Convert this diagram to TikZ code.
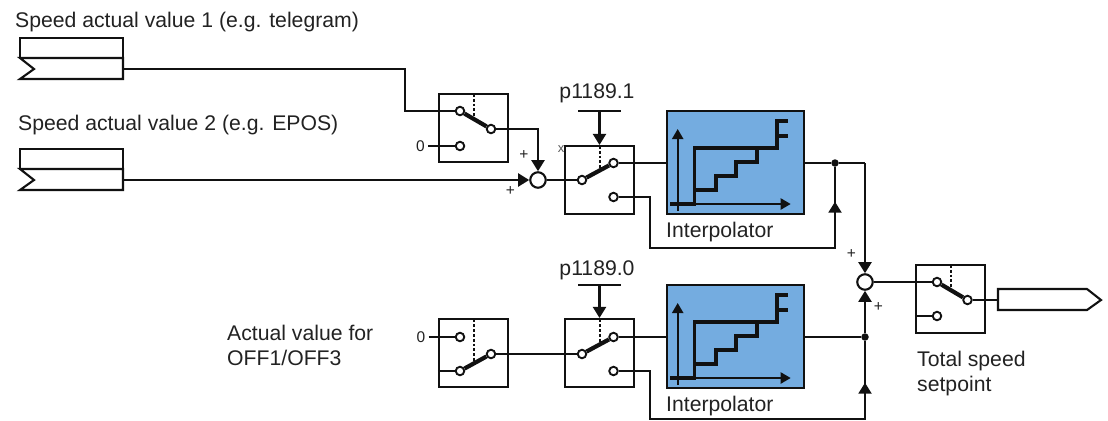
\documentclass[tikz,border=0pt]{standalone}
\usepackage{fontspec}
\setmainfont{Liberation Sans}
\usetikzlibrary{arrows.meta}
\definecolor{interpblue}{HTML}{74ACE0}
\definecolor{inkc}{HTML}{111111}
\definecolor{textc}{HTML}{222222}
\tikzset{
  wire/.style={line width=2.1bp,draw=inkc},
  tip/.style={wire,-{Triangle[length=11bp,width=13bp]}},
  swbox/.style={draw=inkc,line width=2.1bp,fill=none,minimum width=69bp,minimum height=68bp,inner sep=0pt},
  contact/.style={circle,draw=inkc,fill=white,line width=1.9bp,minimum size=8.5bp,inner sep=0pt},
  arm/.style={line width=4.2bp,draw=inkc},
  ctrl/.style={line width=2bp,draw=inkc,dash pattern=on 2.8bp off 2bp},
  sumc/.style={circle,draw=inkc,fill=white,line width=2.1bp,minimum size=15.5bp,inner sep=0pt},
  jdot/.style={circle,fill=inkc,minimum size=7.5bp,inner sep=0pt},
  interp/.style={draw=inkc,line width=2.1bp,fill=interpblue,minimum width=137bp,minimum height=103bp,inner sep=0pt},
  curve/.style={line width=3.5bp,draw=inkc},
  axis/.style={line width=2.2bp,draw=inkc,-{Triangle[length=10bp,width=11bp]}},
  lbl/.style={font=\fontsize{21.2bp}{25.8bp}\selectfont,text=textc,anchor=west,inner sep=0pt,align=left},
  sml/.style={font=\fontsize{15.5bp}{17bp}\selectfont,text=textc,inner sep=0pt},
}
\newcommand{\interpgraph}[2]{%
  \begin{scope}[shift={(#1,#2)}]
    \draw[axis] (10.7,100) -- (10.7,18);
    \draw[axis] (3,93) -- (123.7,93);
    \draw[curve] (3,93) -- (27.5,93) -- (27.5,37) -- (110,37) -- (110,10) -- (121,10);
    \draw[curve] (110,25) -- (121,25);
    \draw[curve] (27.5,79) -- (49,79) -- (49,65) -- (69,65) -- (69,51) -- (90,51) -- (90,37);
  \end{scope}}
\begin{document}
\begin{tikzpicture}[x=1bp,y=-1bp]
\useasboundingbox (0,0) rectangle (1108,420);
\clip (0,0) rectangle (1108,420);

% labels
\node[lbl] (t1) at (15,22) {Speed actual value 1 (e.g. telegram)};
\node[lbl] (t2) at (18,125.5) {Speed actual value 2 (e.g. EPOS)};
\node[lbl] (t3) at (227,345.5) {Actual value for\\OFF1/OFF3};
\node[lbl] (t4) at (917,373.5) {Total speed\\setpoint};
\node[lbl,anchor=center] (t5) at (597,93) {p1189.1};
\node[lbl,anchor=center] (t6) at (597,270) {p1189.0};
\node[lbl] (t7) at (666,232) {Interpolator};
\node[lbl] (t8) at (666,406) {Interpolator};

% source blocks
\draw[wire] (20,38) rectangle (123,58);
\draw[wire] (20,58) -- (123,58) -- (123,79) -- (20,79) -- (34,69) -- cycle;
\coordinate (s1) at (123,69);
\draw[wire] (20,149) rectangle (123,169);
\draw[wire] (20,169) -- (123,169) -- (123,190) -- (20,190) -- (34,180) -- cycle;
\coordinate (s2) at (123,180);

% switch boxes
\node[swbox] (sw1) at (473.5,128) {};
\node[swbox] (sw2) at (599.5,180) {};
\node[swbox] (sw3) at (473.5,353) {};
\node[swbox] (sw4) at (599.5,353) {};
\node[swbox] (sw5) at (950.5,299) {};

% interpolators
\node[interp] (in1) at (735.5,162.5) {};
\node[interp] (in2) at (735.5,336.5) {};
\interpgraph{667}{111}
\interpgraph{667}{285}

% sums, junctions
\node[sumc] (sum1) at (538,180) {};
\node[sumc] (sum2) at (865,282) {};
\node[jdot] (d1) at (835,163) {};
\node[jdot] (d2) at (865,337) {};

% contacts
\node[contact] (a1) at (460,111) {};
\node[contact] (a2) at (491,129) {};
\node[contact] (a3) at (460,146) {};
\node[contact] (b1) at (582,180) {};
\node[contact] (b2) at (613.5,163) {};
\node[contact] (b3) at (613.5,197) {};
\node[contact] (c1) at (460,337) {};
\node[contact] (c2) at (491,354) {};
\node[contact] (c3) at (460,371) {};
\node[contact] (e1) at (582,354) {};
\node[contact] (e2) at (613.5,337) {};
\node[contact] (e3) at (613.5,371) {};
\node[contact] (f1) at (937,282) {};
\node[contact] (f2) at (967.5,300) {};
\node[contact] (f3) at (937,316) {};

% switch arms
\draw[arm] (a1) -- (a2);
\draw[arm] (b1) -- (b2);
\draw[arm] (c3) -- (c2);
\draw[arm] (e1) -- (e2);
\draw[arm] (f1) -- (f2);

% control lines
\draw[ctrl] (473.5,94) -- (473.5,119);
\draw[ctrl] (599.5,146) -- (599.5,170);
\draw[ctrl] (473.5,319.5) -- (473.5,361);
\draw[ctrl] (599.5,319.5) -- (599.5,344);
\draw[ctrl] (950.5,265) -- (950.5,289);

% zero inputs
\node[sml] (z1) at (420.5,146) {0};
\node[sml] (z2) at (421,337) {0};
\draw[wire] (z1.east) ++(3bp,0) -- (a3);
\draw[wire] (z2.east) ++(3bp,0) -- (c1);
\coordinate (w3) at (sw3.west |- c3);
\draw[wire] (w3) -- (c3);
\coordinate (w5) at (sw5.west |- f3);
\draw[wire] (w5) -- (f3);

% wires
\coordinate (k1) at (405,111);
\draw[wire] (s1) -| (k1) -- (a1);
\draw[tip] (a2) -| (sum1);
\draw[tip] (s2) -- (sum1);
\draw[wire] (sum1) -- (b1);
\draw[wire] (b2) -- (b2 -| in1.west);
\draw[wire] (c2) -- (e1);
\draw[wire] (e2) -- (e2 -| in2.west);
\draw[wire] (d1 -| in1.east) -- (d1);
\coordinate (k2) at (865,163);
\draw[wire] (d1) -- (k2);
\draw[tip] (k2) -- (sum2);
\coordinate (k3) at (650,248);
\coordinate (k4) at (835,248);
\coordinate (m1) at (835,201.7);
\draw[wire] (b3) -| (k3) -- (k4) -- (d1);
\draw[tip] (k4) -- (m1);
\draw[wire] (d2 -| in2.east) -- (d2);
\draw[tip] (d2) -- (sum2);
\coordinate (k5) at (650,419);
\coordinate (k6) at (865,419);
\coordinate (m2) at (865,382.7);
\draw[wire] (e3) -| (k5) -- (k6) -- (d2);
\draw[tip] (k6) -- (m2);
\draw[wire] (sum2) -- (f1);

% p1189 bars
\coordinate (p1) at (599.5,111);
\draw[wire] (578,111) -- (621,111);
\draw[tip] (p1) -- (sw2.north);
\coordinate (p2) at (599.5,285);
\draw[wire] (578,285) -- (621,285);
\draw[tip] (p2) -- (sw4.north);

% output
\coordinate (o1) at (998,300);
\draw[wire] (f2) -- (o1);
\draw[wire] (998,289) -- (1087,289) -- (1101,300) -- (1087,310) -- (998,310) -- cycle;

% signs
\node[sml] (pl1) at (524,155) {+};
\node[sml] (pl2) at (510.5,191) {+};
\node[sml] (pl3) at (851.5,254) {+};
\node[sml] (pl4) at (878.5,307) {+};
\node[font=\fontsize{13bp}{14bp}\selectfont,text=black!65,inner sep=0pt] (xm) at (561,149) {x};
\end{tikzpicture}
\end{document}
